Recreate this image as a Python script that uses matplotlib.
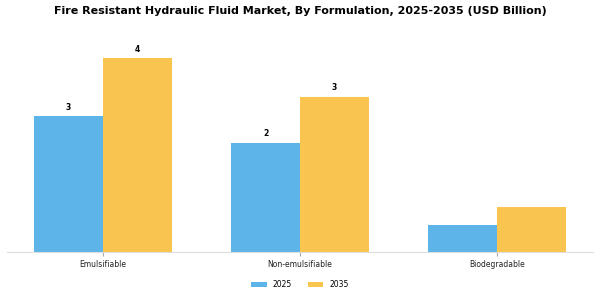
import matplotlib
matplotlib.use("Agg")
import matplotlib.pyplot as plt
import numpy as np

categories = ["Emulsifiable", "Non-emulsifiable", "Biodegradable"]
series_names = ["2025", "2035"]
values_2025 = [2.8, 2.25, 0.56]
values_2035 = [4.0, 3.2, 0.93]
label_2025 = ["3", "2", ""]
label_2035 = ["4", "3", ""]

colors = ["#5DB4E8", "#F9C54E"]

fig = plt.figure(figsize=(6, 3), dpi=100)
ax = fig.add_axes([7/600, 48/300, 586/600, 213/300])

x = np.arange(len(categories))
w = 0.35
b1 = ax.bar(x - w/2, values_2025, w, color=colors[0], label=series_names[0])
b2 = ax.bar(x + w/2, values_2035, w, color=colors[1], label=series_names[1])

for bars, labels in ((b1, label_2025), (b2, label_2035)):
    for r, t in zip(bars, labels):
        if t:
            ax.annotate(t, (r.get_x() + r.get_width()/2, r.get_height()),
                        xytext=(0, 3.5), textcoords="offset points",
                        ha="center", va="bottom", fontsize=5.5, fontweight="bold")

ax.set_xlim(-0.487, 2.487)
ax.set_ylim(0, 4.4)
ax.set_xticks(x)
ax.set_xticklabels(categories, fontsize=5.5, color="#222222")
ax.tick_params(axis="x", length=3, color="#aaaaaa", pad=2.5)
ax.set_yticks([])
for s in ["top", "right", "left"]:
    ax.spines[s].set_visible(False)
ax.spines["bottom"].set_color("#dddddd")

fig.suptitle("Fire Resistant Hydraulic Fluid Market, By Formulation, 2025-2035 (USD Billion)",
             fontsize=8, fontweight="bold", y=0.98)

fig.legend(handles=[b1, b2], labels=series_names, loc="center",
           bbox_to_anchor=(0.5, 1 - 284.5/300), ncol=2, frameon=False, fontsize=5.5,
           handlelength=2.0, handleheight=0.7, handletextpad=0.8, columnspacing=2.1)

fig.savefig("out.png", dpi=100)
